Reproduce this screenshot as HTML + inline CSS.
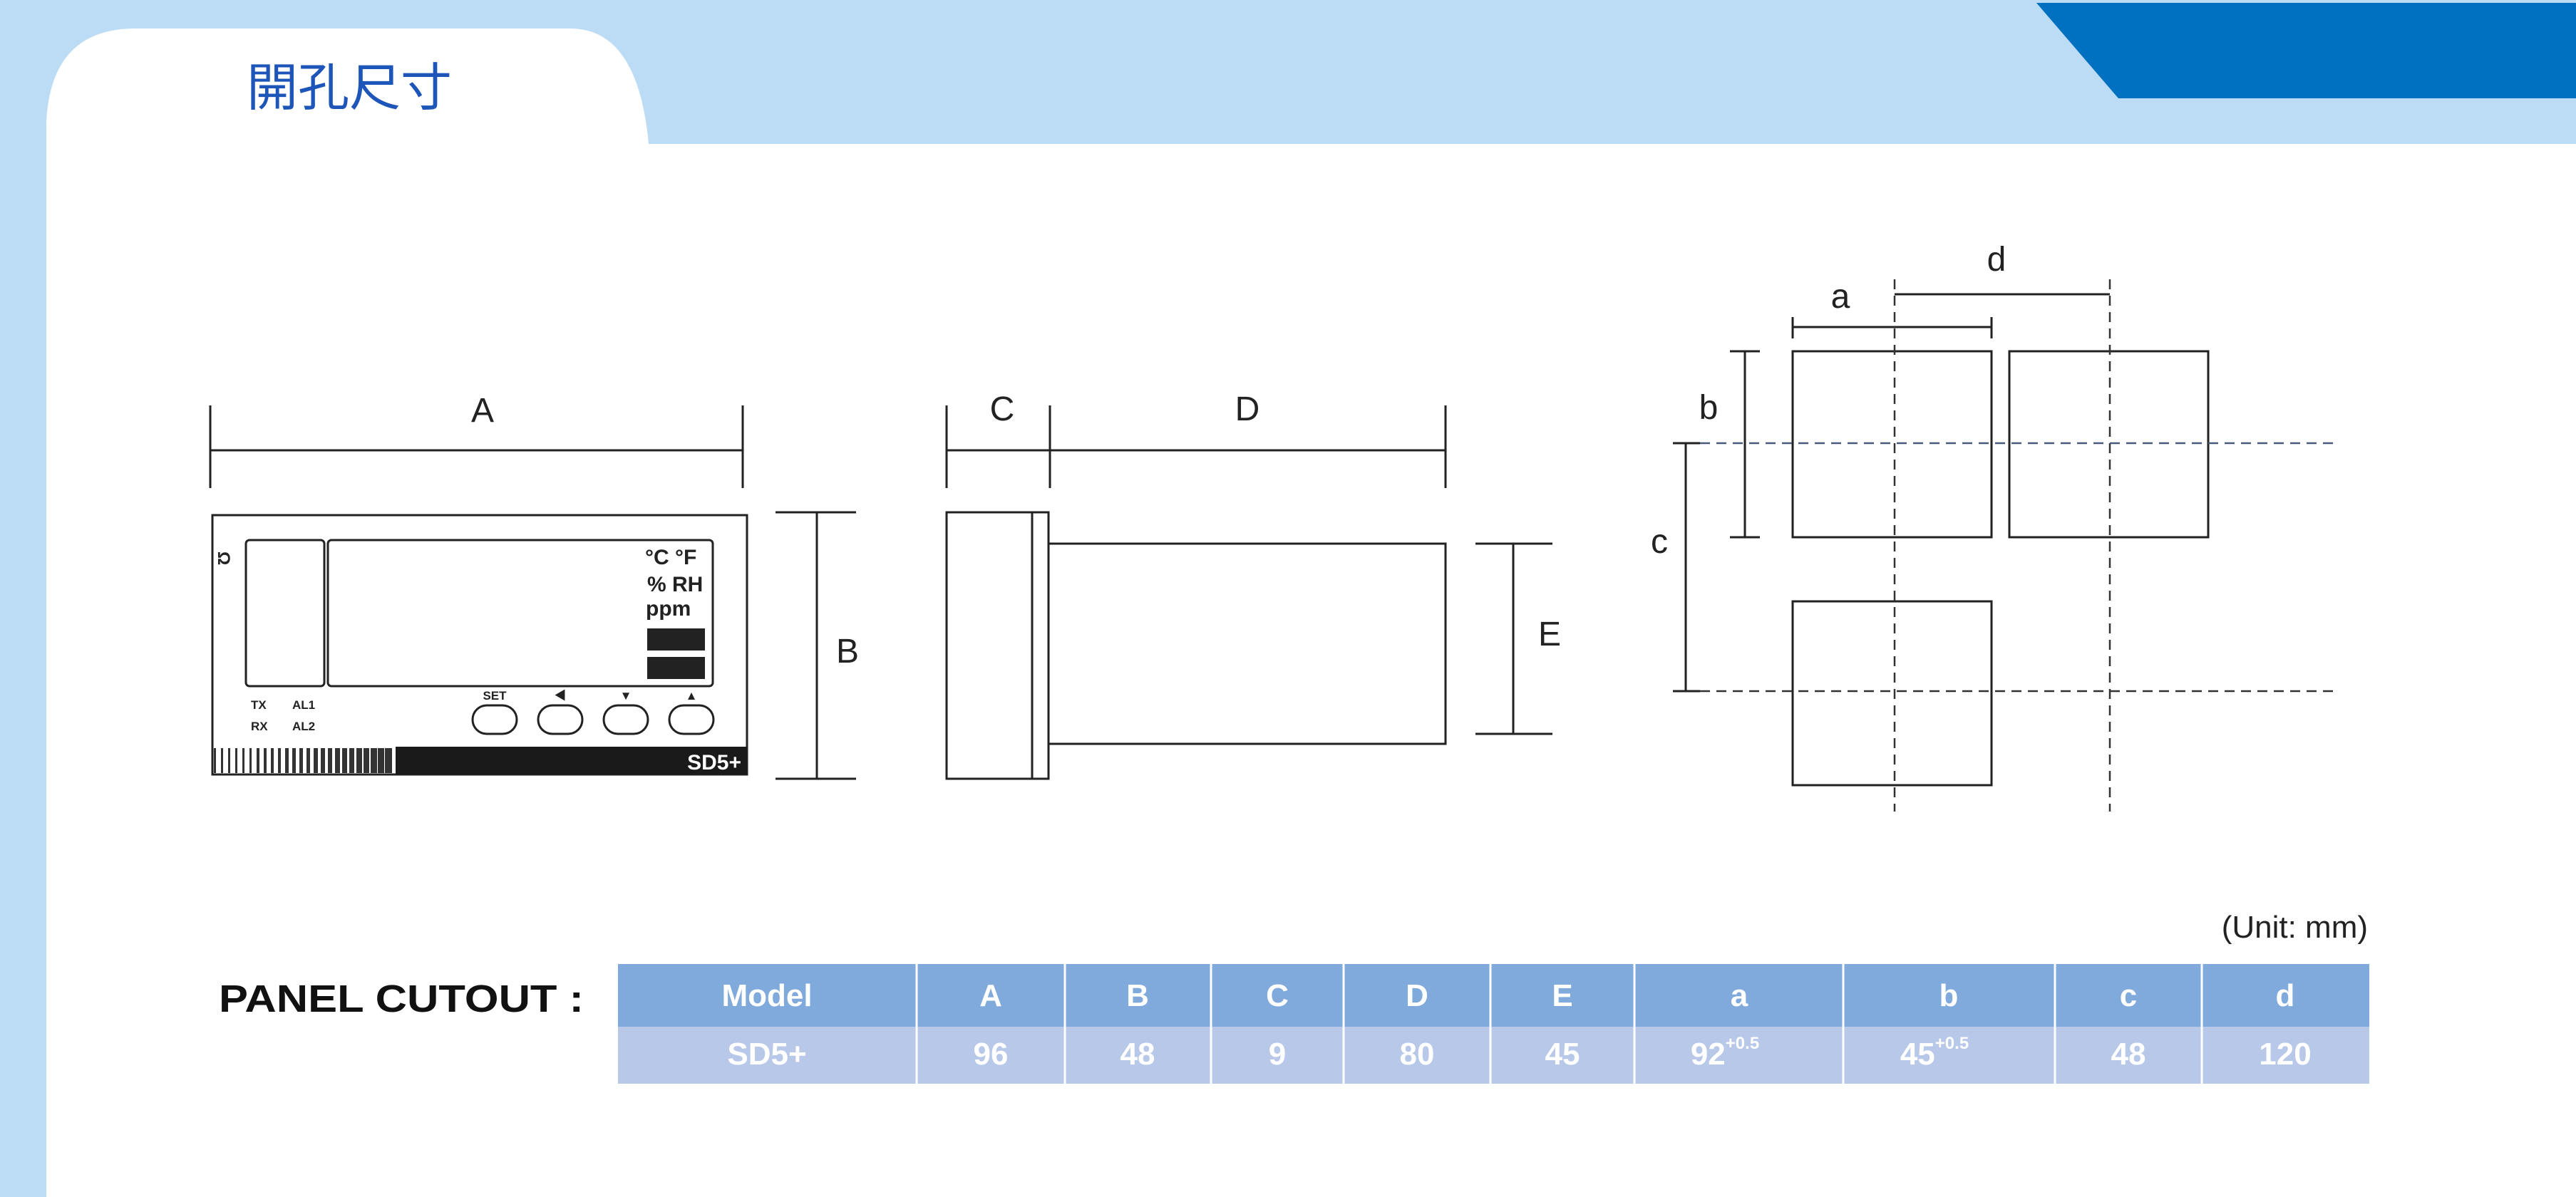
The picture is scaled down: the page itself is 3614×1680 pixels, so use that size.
<!DOCTYPE html>
<html><head><meta charset="utf-8"><style>
html,body{margin:0;padding:0;width:3614px;height:1680px;overflow:hidden;background:#bcdcf5}
svg{display:block}
text{font-family:"Liberation Sans","Noto Sans CJK TC",sans-serif}
</style></head><body>
<svg width="3614" height="1680" viewBox="0 0 3614 1680" xmlns="http://www.w3.org/2000/svg">
<rect width="3614" height="1680" fill="#bcdcf5"/>
<polygon points="2857,4 3614,4 3614,138 2972,138" fill="#0070c0"/>
<rect x="65" y="202" width="3549" height="1478" fill="#fff"/>
<path d="M65,202 L65,170 Q72,40 190,40 L800,40 Q895,40 910,202 Z" fill="#fff"/>
<text x="346" y="148" font-size="72" fill="#1d55b8" font-family="'Noto Sans CJK TC',sans-serif">開孔尺寸</text>

<g stroke="#222" stroke-width="3" fill="none">
<line x1="295" y1="632" x2="1042" y2="632"/>
<line x1="295" y1="569" x2="295" y2="685"/>
<line x1="1042" y1="569" x2="1042" y2="685"/>
<line x1="1146" y1="719" x2="1146" y2="1093"/>
<line x1="1088" y1="719" x2="1201" y2="719"/>
<line x1="1088" y1="1093" x2="1201" y2="1093"/>
<rect x="298" y="723" width="750" height="364"/>
<rect x="345" y="758" width="110" height="205" rx="5"/>
<rect x="460" y="758" width="540" height="205" rx="5"/>
<rect x="663" y="990" width="62" height="40" rx="20"/>
<rect x="755" y="990" width="62" height="40" rx="20"/>
<rect x="847" y="990" width="62" height="40" rx="20"/>
<rect x="939" y="990" width="62" height="40" rx="20"/>
<rect x="1328" y="719" width="120" height="374"/>
<rect x="1448" y="719" width="23" height="374"/>
<rect x="1471" y="763" width="557" height="281"/>
<line x1="1328" y1="632" x2="2028" y2="632"/>
<line x1="1328" y1="569" x2="1328" y2="685"/>
<line x1="1473" y1="569" x2="1473" y2="685"/>
<line x1="2028" y1="569" x2="2028" y2="685"/>
<line x1="2123" y1="763" x2="2123" y2="1030"/>
<line x1="2070" y1="763" x2="2178" y2="763"/>
<line x1="2070" y1="1030" x2="2178" y2="1030"/>
<rect x="2515" y="493" width="279" height="261"/>
<rect x="2819" y="493" width="279" height="261"/>
<rect x="2515" y="844" width="279" height="258"/>
<line x1="2515" y1="459" x2="2794" y2="459"/>
<line x1="2515" y1="445" x2="2515" y2="475"/>
<line x1="2794" y1="445" x2="2794" y2="475"/>
<line x1="2658" y1="413" x2="2960" y2="413"/>
<line x1="2448" y1="493" x2="2448" y2="754"/>
<line x1="2427" y1="493" x2="2469" y2="493"/>
<line x1="2427" y1="754" x2="2469" y2="754"/>
<line x1="2365" y1="622" x2="2365" y2="970"/>
<line x1="2347" y1="622" x2="2385" y2="622"/>
<line x1="2347" y1="970" x2="2385" y2="970"/>
</g>
<g stroke="#333" stroke-width="2.5" stroke-dasharray="14,9" fill="none">
<line x1="2658" y1="392" x2="2658" y2="1139"/>
<line x1="2960" y1="392" x2="2960" y2="1139"/>
<line x1="2385" y1="622" x2="3278" y2="622" stroke="#4a5a7a"/>
<line x1="2385" y1="970" x2="3278" y2="970"/>
</g>
<rect x="908" y="882" width="81" height="31" fill="#222"/>
<rect x="908" y="922" width="81" height="31" fill="#222"/>
<rect x="555" y="1048" width="493" height="39" fill="#1a1a1a"/>
<g fill="#333">
<rect x="300" y="1050" width="3" height="35"/><rect x="310" y="1050" width="3" height="35"/><rect x="320" y="1050" width="3" height="35"/><rect x="330" y="1050" width="3" height="35"/><rect x="340" y="1050" width="3" height="35"/><rect x="350" y="1050" width="3" height="35"/><rect x="360" y="1050" width="4" height="35"/><rect x="370" y="1050" width="4" height="35"/><rect x="380" y="1050" width="4" height="35"/><rect x="390" y="1050" width="4" height="35"/><rect x="400" y="1050" width="5" height="35"/><rect x="410" y="1050" width="5" height="35"/><rect x="420" y="1050" width="5" height="35"/><rect x="430" y="1050" width="5" height="35"/><rect x="440" y="1050" width="6" height="35"/><rect x="450" y="1050" width="6" height="35"/><rect x="460" y="1050" width="6" height="35"/><rect x="470" y="1050" width="7" height="35"/><rect x="480" y="1050" width="7" height="35"/><rect x="490" y="1050" width="7" height="35"/><rect x="500" y="1050" width="8" height="35"/><rect x="510" y="1050" width="8" height="35"/><rect x="520" y="1050" width="9" height="35"/><rect x="530" y="1050" width="9" height="35"/><rect x="540" y="1050" width="10" height="35"/>
</g>
<g fill="#222" font-weight="bold">
<text x="905" y="792" font-size="30">°C °F</text>
<text x="908" y="830" font-size="30">% RH</text>
<text x="906" y="864" font-size="30">ppm</text>
<text x="352" y="995" font-size="17">TX</text>
<text x="410" y="995" font-size="17">AL1</text>
<text x="352" y="1025" font-size="17">RX</text>
<text x="410" y="1025" font-size="17">AL2</text>
<text x="694" y="982" font-size="17" text-anchor="middle">SET</text>
<text x="786" y="982" font-size="17" text-anchor="middle">◀</text>
<text x="878" y="982" font-size="17" text-anchor="middle">▼</text>
<text x="970" y="982" font-size="17" text-anchor="middle">▲</text>
<text x="306" y="790" font-size="24" transform="rotate(90 314 782)">Ω</text>
<text x="1040" y="1080" font-size="30" fill="#fff" text-anchor="end">SD5+</text>
</g>
<g fill="#222" font-size="48" text-anchor="middle">
<text x="677" y="592">A</text>
<text x="1189" y="930">B</text>
<text x="1406" y="590">C</text>
<text x="1750" y="590">D</text>
<text x="2174" y="906">E</text>
<text x="2582" y="432">a</text>
<text x="2801" y="380">d</text>
<text x="2397" y="588">b</text>
<text x="2328" y="776">c</text>
</g>
<text x="3322" y="1316" font-size="44" fill="#222" text-anchor="end">(Unit: mm)</text>
<text x="307" y="1420" font-size="54" font-weight="bold" fill="#111" textLength="512" lengthAdjust="spacingAndGlyphs">PANEL CUTOUT :</text>
<rect x="867" y="1353" width="2457" height="88" fill="#80a9dc"/>
<rect x="867" y="1441" width="2457" height="80" fill="#b8c8e9"/>
<g stroke="#fff" stroke-width="3">
<line x1="1286" y1="1353" x2="1286" y2="1521"/><line x1="1494" y1="1353" x2="1494" y2="1521"/><line x1="1699" y1="1353" x2="1699" y2="1521"/><line x1="1885" y1="1353" x2="1885" y2="1521"/><line x1="2091" y1="1353" x2="2091" y2="1521"/><line x1="2293" y1="1353" x2="2293" y2="1521"/><line x1="2586" y1="1353" x2="2586" y2="1521"/><line x1="2883" y1="1353" x2="2883" y2="1521"/><line x1="3089" y1="1353" x2="3089" y2="1521"/>
</g>
<g fill="#fff" font-size="44" font-weight="bold" text-anchor="middle">
<text x="1076" y="1412">Model</text><text x="1390" y="1412">A</text><text x="1596" y="1412">B</text><text x="1792" y="1412">C</text><text x="1988" y="1412">D</text><text x="2192" y="1412">E</text><text x="2440" y="1412">a</text><text x="2734" y="1412">b</text><text x="2986" y="1412">c</text><text x="3206" y="1412">d</text>
<text x="1076" y="1494">SD5+</text><text x="1390" y="1494">96</text><text x="1596" y="1494">48</text><text x="1792" y="1494">9</text><text x="1988" y="1494">80</text><text x="2192" y="1494">45</text>
<text x="2420" y="1494">92<tspan font-size="24" dy="-22">+0.5</tspan></text>
<text x="2714" y="1494">45<tspan font-size="24" dy="-22">+0.5</tspan></text>
<text x="2986" y="1494">48</text><text x="3206" y="1494">120</text>
</g>
</svg>
</body></html>
